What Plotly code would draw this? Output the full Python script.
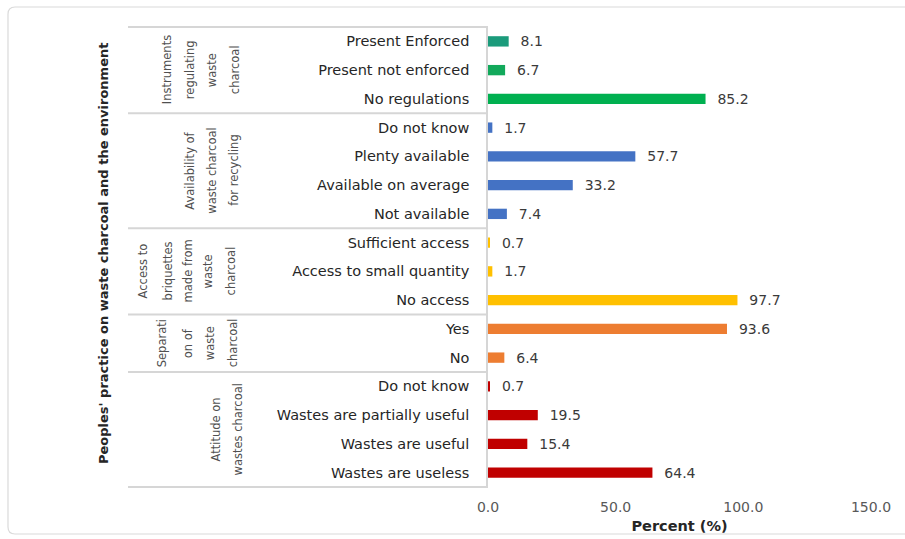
import plotly.graph_objects as go

# ---- data -------------------------------------------------------------
group_lines = [
    ["Instruments", "regulating", "waste", "charcoal"],
    ["Availability of", "waste charcoal", "for recycling"],
    ["Access to", "briquettes", "made from", "waste", "charcoal"],
    ["Separati", "on of", "waste", "charcoal"],
    ["Attitude on", "wastes charcoal"],
]
group_sizes = [3, 4, 3, 2, 4]

categories = [
    "Present Enforced", "Present not enforced", "No regulations",
    "Do not know", "Plenty available", "Available on average", "Not available",
    "Sufficient access", "Access to small quantity", "No access",
    "Yes", "No",
    "Do not know", "Wastes are partially useful", "Wastes are useful", "Wastes are useless",
]
values = [8.1, 6.7, 85.2, 1.7, 57.7, 33.2, 7.4, 0.7, 1.7, 97.7, 93.6, 6.4, 0.7, 19.5, 15.4, 64.4]

x_ticks = [0, 50, 100, 150]
x_tick_labels = ["0.0", "50.0", "100.0", "150.0"]

y_title = "Peoples' practice on waste charcoal and the environment"
x_title = "Percent (%)"

# ---- styling ----------------------------------------------------------
group_colors = [["#1b9b7b", "#12a95b", "#00b050"], ["#4472c4"], ["#ffc000"], ["#ed7d31"], ["#c00000"]]
bar_colors = []
for size, cols in zip(group_sizes, group_colors):
    bar_colors += [cols[min(i, len(cols) - 1)] for i in range(size)]

W, H = 905, 539
PL, PR, PT, PB = 488, 871, 27, 487          # plot-area edges in pixels
FONT = "DejaVu Sans"
LINE = "#d6d6d6"


def px(x):
    return (x - PL) / (PR - PL)


def py(y):
    return (PB - y) / (PB - PT)


# column positions (pixels) of the wrapped, rotated group titles
group_cols = [
    [167, 190, 212, 235],
    [190, 212, 234],
    [143, 168, 188, 208, 231],
    [162, 188, 210, 233],
    [215, 237],
]

pos = list(range(len(categories)))

fig = go.Figure(
    go.Bar(
        x=values,
        y=pos,
        orientation="h",
        marker=dict(color=bar_colors, line=dict(width=0)),
        width=0.36,
        text=["\u00a0\u00a0" + f"{v:.1f}" for v in values],
        textposition="outside",
        constraintext="none",
        cliponaxis=False,
        textfont=dict(family=FONT, size=14, color="#3a3a3a"),
        hoverinfo="skip",
    )
)

shapes = []
annotations = []

# horizontal dividers between the groups of the category axis
n = len(categories)
edges = [0]
for s in group_sizes:
    edges.append(edges[-1] + s)
for e in edges:
    shapes.append(dict(type="line", xref="paper", yref="paper",
                       x0=px(128), x1=0, y0=1 - e / n, y1=1 - e / n,
                       line=dict(color=LINE, width=2)))

# rotated group titles
for gi, lines in enumerate(group_lines):
    centre = edges[gi] + group_sizes[gi] / 2 - 0.5
    for line_text, cx in zip(lines, group_cols[gi]):
        annotations.append(dict(
            text=line_text, xref="paper", yref="y", x=px(cx), y=centre,
            textangle=-90, showarrow=False, xanchor="center", yanchor="middle",
            font=dict(family=FONT, size=11.5, color="#505050"),
        ))

# vertical axis title
annotations.append(dict(
    text=y_title, xref="paper", yref="paper", x=px(103), y=py(254),
    textangle=-90, showarrow=False, xanchor="center", yanchor="middle",
    font=dict(family=FONT, size=13, color="#262626", weight="bold"),
))

# outer chart frame with rounded corners
r = 7
x0, y0, x1, y1 = 8, 7, 915, 534
frame = (f"M {px(x0 + r)},{py(y0)} L {px(x1)},{py(y0)} L {px(x1)},{py(y1)} "
         f"L {px(x0 + r)},{py(y1)} Q {px(x0)},{py(y1)} {px(x0)},{py(y1 - r)} "
         f"L {px(x0)},{py(y0 + r)} Q {px(x0)},{py(y0)} {px(x0 + r)},{py(y0)} Z")
shapes.append(dict(type="path", xref="paper", yref="paper", path=frame,
                   line=dict(color="#dadada", width=1.2)))

fig.update_layout(
    width=W, height=H,
    margin=dict(l=PL, r=W - PR, t=PT, b=H - PB),
    paper_bgcolor="white", plot_bgcolor="white",
    font=dict(family=FONT, color="#404040"),
    showlegend=False,
    shapes=shapes,
    annotations=annotations,
    bargap=0.6,
    xaxis=dict(
        range=[0, 150], tickvals=x_ticks, ticktext=x_tick_labels,
        showgrid=False, zeroline=False, showline=False, ticks="",
        ticklabelstandoff=10, automargin=False,
        tickfont=dict(family=FONT, size=14, color="#595959"),
        title=dict(text=x_title, standoff=6,
                   font=dict(family=FONT, size=14.5, color="#262626", weight="bold")),
    ),
    yaxis=dict(
        range=[n - 0.5, -0.5], tickvals=pos, ticktext=categories,
        showgrid=False, zeroline=False, showline=True, linecolor=LINE, linewidth=1.5,
        ticks="", ticklabelstandoff=14, automargin=False,
        tickfont=dict(family=FONT, size=14.5, color="#262626"),
    ),
)

fig.write_html("out.html")
